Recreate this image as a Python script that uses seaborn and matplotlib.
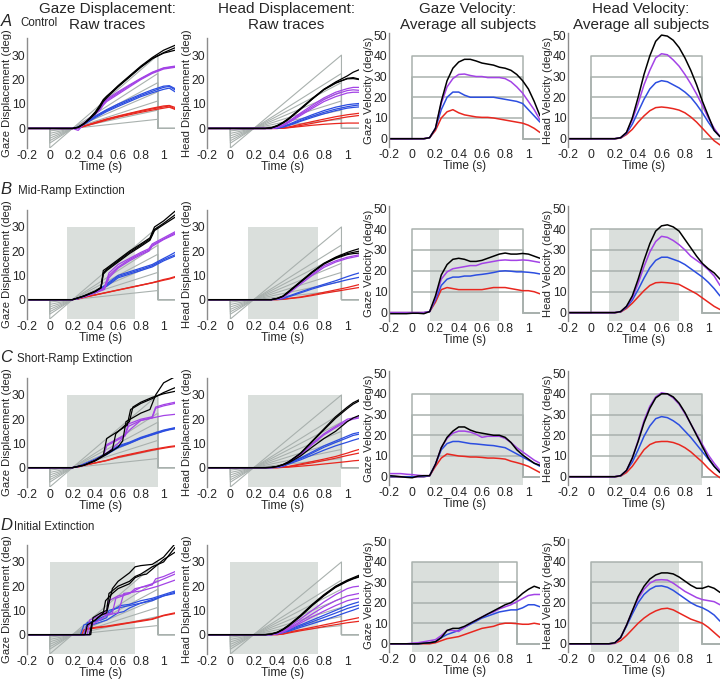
import pandas as pd
import matplotlib
matplotlib.use("Agg")
import matplotlib.pyplot as plt
import seaborn as sns

sns.set_style("white")
plt.rcParams["font.family"] = ["Liberation Sans", "DejaVu Sans"]

W, H = 720, 682

# target speeds (deg/s) and their colours
speeds = [10, 20, 30, 40]
pal = {10: "#e8271f", 20: "#2c4ee0", 30: "#a343e6", 40: "#000000"}
grey = "#a9b1ae"
shade = "#dadfdc"

# fan of target ramps drawn in the displacement panels
ramp_speeds = [5, 10, 15, 20, 25, 30, 40]
ramp_on, ramp_zero, ramp_off = 0.0, 0.2, 0.95

row_letters = ["A", "B", "C", "D"]
row_names = ["Control", "Mid-Ramp Extinction", "Short-Ramp Extinction", "Initial Extinction"]
blank = [None, (0.15, 0.75), (0.15, 0.95), (0.0, 0.75)]
gaze_vel_off = [0.95, 0.95, 0.95, 0.9]
head_vel_off = [0.95, 0.95, 0.95, 0.95]

xt = [-0.2, 0, 0.2, 0.4, 0.6, 0.8, 1.0]
xtl = ["-0.2", "0", "0.2", "0.4", "0.6", "0.8", "1"]

# time grids
t_s = [-0.2, 0.2, 0.25, 0.3, 0.4, 0.5, 0.6, 0.7, 0.8, 0.9, 1.0, 1.05, 1.1]
t_h = [-0.2, 0.3, 0.35, 0.4, 0.45, 0.5, 0.6, 0.7, 0.8, 0.9, 1.0, 1.05, 1.1]
t_A = [-0.2, 0.2, 0.25, 0.3, 0.35, 0.4, 0.44, 0.47, 0.5, 0.6, 0.7, 0.8, 0.9, 1.0, 1.1]
tv = [-0.2, -0.15, -0.1, -0.05, 0.0, 0.05, 0.1, 0.15, 0.2, 0.25, 0.3, 0.35, 0.4,
      0.45, 0.5, 0.55, 0.6, 0.65, 0.7, 0.75, 0.8, 0.85, 0.9, 0.95, 1.0, 1.05, 1.1]

# ---------- raw gaze traces ----------
gaze_A = {
    40: [(t_A, [0, 0, 0.5, 2, 4, 6.5, 9, 11.5, 13, 17.5, 21.5, 25.5, 29, 32, 34]),
         (t_A, [0, 0, 0.4, 1.8, 3.8, 6, 8.5, 11, 12.5, 17, 21, 25, 28.5, 31, 33]),
         (t_A, [0, 0, 0.5, 2, 4.2, 6.8, 9.5, 11.8, 13.2, 17.2, 21.2, 25.2, 28.6, 30.8, 32])],
    30: [(t_A, [0, 0, 0, 2, 4, 6, 7.8, 10, 11.5, 14.5, 17.5, 20.3, 22.8, 24.6, 25.3]),
         (t_A, [0, 0, -0.8, 1.8, 3.8, 5.8, 7.5, 9.5, 11, 14, 17, 20, 22.5, 24.3, 25]),
         (t_A, [0, 0, 0, 2.2, 4.2, 6.3, 8, 10.5, 12, 15, 17.8, 20.5, 23, 24.8, 25.5])],
    20: [(t_s, [0, 0, 0.5, 1.8, 4.8, 7.3, 9.5, 11.5, 13.5, 15.2, 16.8, 17.2, 15.8]),
         (t_s, [0, 0, 0.4, 1.6, 4.4, 6.9, 9, 11, 13, 14.6, 16, 16.5, 15]),
         (t_s, [0, 0, 0.6, 2, 5.1, 7.7, 10, 12, 14, 15.8, 17.3, 17.5, 16.3])],
    10: [(t_s, [0, 0, 0.3, 0.9, 2.3, 3.7, 4.9, 6, 7, 8, 8.8, 9.2, 8]),
         (t_s, [0, 0, 0.2, 0.8, 2.1, 3.4, 4.6, 5.6, 6.6, 7.5, 8.3, 8.7, 7.8]),
         (t_s, [0, 0, 0.3, 1, 2.5, 3.9, 5.1, 6.2, 7.3, 8.3, 9.2, 9.4, 8.6])],
}

t_Bk = [-0.2, 0.2, 0.3, 0.4, 0.45, 0.47, 0.5, 0.6, 0.7, 0.8, 0.88, 0.92, 1.0, 1.1]
t_Bp = [-0.2, 0.2, 0.3, 0.4, 0.48, 0.52, 0.6, 0.7, 0.8, 0.87, 0.9, 1.0, 1.1]
gaze_B = {
    40: [(t_Bk, [0, 0, 1.5, 3.5, 5, 12, 13, 16.5, 20, 23, 25.5, 30, 32.5, 36.5]),
         (t_Bk, [0, 0, 1.5, 3.5, 5, 11, 12.5, 16, 19.5, 22.5, 25, 29, 31.5, 35]),
         (t_Bk, [0, 0, 1.4, 3.3, 4.8, 10.5, 12, 15.5, 19, 22, 24.5, 28.5, 31, 34])],
    30: [(t_Bp, [0, 0, 1.2, 3, 5, 11, 14.5, 17, 19.5, 21, 23, 25.5, 28]),
         (t_Bp, [0, 0, 1.2, 3, 4.5, 10, 13.5, 16.5, 19, 20.5, 22.5, 25, 27.5]),
         (t_Bp, [0, 0, 1.1, 2.8, 4.2, 9, 13, 16, 18.5, 20, 22, 24.8, 27])],
    20: [(t_s, [0, 0, 0.5, 1.5, 3, 6.5, 10, 11.5, 13, 14.5, 17, 18.2, 19.5]),
         (t_s, [0, 0, 0.5, 1.5, 3, 6, 9.5, 11, 12.5, 14, 16.5, 17.5, 18.5]),
         (t_s, [0, 0, 0.4, 1.4, 2.8, 5.5, 9, 10.5, 12, 13.5, 16, 17, 18])],
    10: [(t_s, [0, 0, 0.3, 1, 2, 3, 4, 5, 6, 7, 8.3, 8.8, 9.5]),
         (t_s, [0, 0, 0.3, 0.9, 1.9, 2.9, 3.9, 4.9, 5.9, 6.9, 8, 8.5, 9.2])],
}

t_Cp = [-0.2, 0.2, 0.3, 0.4, 0.47, 0.5, 0.6, 0.66, 0.69, 0.8, 0.9, 0.93, 1.0, 1.1]
gaze_C = {
    40: [([-0.2, 0.2, 0.3, 0.4, 0.47, 0.5, 0.6, 0.68, 0.71, 0.8, 0.9, 1.0, 1.1],
          [0, 0, 1, 3, 5, 12, 15, 17.5, 24, 26.5, 28.5, 31, 33]),
         ([-0.2, 0.2, 0.3, 0.4, 0.5, 0.55, 0.58, 0.65, 0.7, 0.73, 0.8, 0.9, 1.0, 1.1],
          [0, 0, 1, 3, 6, 7.5, 14, 17, 19, 25, 27, 29, 30.5, 31.5]),
         ([-0.2, 0.2, 0.3, 0.4, 0.5, 0.6, 0.64, 0.67, 0.8, 0.88, 0.93, 1.0, 1.1],
          [0, 0, 1, 2.8, 5.5, 8.5, 11, 19, 22.5, 24, 30, 35, 37.5])],
    30: [(t_Cp, [0, 0, 1, 3, 5, 9.5, 12, 13.5, 18, 20, 21, 25, 26, 27]),
         (t_Cp, [0, 0, 1, 3, 4.8, 9, 11.5, 13, 17, 19.5, 20.5, 24.5, 25.5, 26.5]),
         ([-0.2, 0.2, 0.3, 0.4, 0.5, 0.6, 0.7, 0.8, 0.9, 1.0, 1.1],
          [0, 0, 1, 3, 6, 10, 15.5, 19.5, 20.5, 21.5, 22])],
    20: [(t_s, [0, 0, 0.5, 1.5, 3.5, 6, 9, 10.5, 12.5, 14, 15.5, 16, 16.5]),
         (t_s, [0, 0, 0.5, 1.4, 3.3, 5.7, 8.6, 10.2, 12.2, 13.7, 15.2, 15.8, 16.3]),
         (t_s, [0, 0, 0.4, 1.3, 3.1, 5.4, 8.2, 10, 12, 13.5, 15, 15.6, 16])],
    10: [(t_s, [0, 0, 0.3, 1, 2, 3, 4.5, 5.5, 6.5, 7.5, 8.3, 8.7, 9]),
         (t_s, [0, 0, 0.3, 0.9, 1.9, 2.9, 4.2, 5.2, 6.2, 7.2, 8, 8.4, 8.7])],
}

gaze_D = {
    40: [([-0.2, 0.31, 0.33, 0.4, 0.45, 0.47, 0.49, 0.55, 0.6, 0.7, 0.75, 0.8, 0.85, 0.9, 0.95, 1.0, 1.1],
          [0, 0, 4, 6, 8, 9, 14, 17, 19, 21, 23.5, 24.5, 25, 27, 29, 31, 34]),
         ([-0.2, 0.36, 0.38, 0.45, 0.5, 0.52, 0.6, 0.7, 0.75, 0.8, 0.9, 1.0, 1.1],
          [0, 0, 7, 9, 10, 17, 20, 22, 24, 25, 28, 30, 36]),
         ([-0.2, 0.35, 0.37, 0.45, 0.5, 0.55, 0.6, 0.7, 0.75, 0.8, 0.9, 1.0, 1.1],
          [0, 0, 5, 8, 9, 19, 22, 25.5, 28, 28.5, 29, 32, 37.5])],
    30: [([-0.2, 0.3, 0.32, 0.4, 0.45, 0.5, 0.52, 0.6, 0.7, 0.75, 0.8, 0.9, 0.93, 1.0, 1.1],
          [0, 0, 3, 6, 8.5, 9.5, 14, 16, 17, 19, 19.5, 20.5, 23, 24, 26]),
         ([-0.2, 0.35, 0.37, 0.5, 0.6, 0.62, 0.65, 0.8, 0.95, 1.1],
          [0, 0, 4, 8, 9, 12, 17, 18, 20, 22.5]),
         ([-0.2, 0.33, 0.35, 0.45, 0.55, 0.58, 0.7, 0.8, 0.9, 1.0, 1.1],
          [0, 0, 6, 8, 9, 15, 17, 19.5, 21, 23, 25])],
    20: [([-0.2, 0.27, 0.3, 0.4, 0.45, 0.5, 0.55, 0.62, 0.7, 0.8, 0.9, 1.0, 1.1],
          [0, 0, 4, 5.5, 7, 8, 10, 12, 12.5, 14, 15, 16.5, 18]),
         ([-0.2, 0.35, 0.37, 0.5, 0.6, 0.65, 0.7, 0.8, 0.9, 1.0, 1.1],
          [0, 0, 4, 6, 9, 9.5, 11, 13, 14, 16, 17]),
         ([-0.2, 0.3, 0.33, 0.45, 0.5, 0.52, 0.6, 0.8, 0.9, 1.0, 1.1],
          [0, 0, 5, 6, 7, 10, 11, 13, 14.5, 16, 17.5])],
    10: [([-0.2, 0.3, 0.33, 0.4, 0.5, 0.6, 0.7, 0.8, 0.9, 0.95, 1.0, 1.1],
          [0, 0, 2.5, 3, 3.5, 4.3, 5, 5.8, 6.5, 7.3, 8, 9]),
         ([-0.2, 0.28, 0.3, 0.4, 0.5, 0.6, 0.7, 0.8, 0.9, 1.0, 1.1],
          [0, 0, 2, 2.7, 3.3, 4, 4.8, 5.5, 6.3, 7.8, 8.7])],
}

# ---------- raw head traces (on t_h) ----------
head_A = {
    40: [[0, 0, 0.2, 1, 2.3, 4, 8, 12, 16, 19, 21.5, 23, 24],
         [0, 0, 0.2, 1, 2.2, 3.8, 7.8, 12, 15.8, 18.5, 20.5, 20.8, 20.2],
         [0, 0, 0.3, 1.2, 2.5, 4.2, 8.2, 12.3, 16, 18.7, 20.3, 20.4, 20]],
    30: [[0, 0, 0, 0.5, 1.5, 3, 6.3, 9.5, 12.5, 14.8, 16.3, 16.8, 16.8],
         [0, 0, 0, 0.4, 1.3, 2.7, 5.8, 8.8, 11.8, 14, 15.5, 15.8, 15.6],
         [0, 0, 0, 0.3, 1.1, 2.4, 5.3, 8.2, 11, 13, 14.5, 14.8, 14.8]],
    20: [[0, 0, 0, 0.2, 0.8, 1.7, 3.7, 5.6, 7.3, 8.7, 9.7, 10, 10.2],
         [0, 0, 0, 0.1, 0.6, 1.4, 3.2, 5, 6.6, 7.9, 8.9, 9.3, 9.6],
         [0, 0, 0, 0.1, 0.5, 1.2, 2.9, 4.5, 6, 7.3, 8.3, 8.6, 8.8]],
    10: [[0, 0, 0, 0, 0.2, 0.6, 1.7, 2.8, 3.8, 4.8, 5.6, 5.9, 6.2],
         [0, 0, 0, 0, 0.1, 0.4, 1.2, 2.1, 3, 3.9, 4.7, 5, 5.3],
         [0, 0, 0, 0, 0.1, 0.3, 0.8, 1.3, 1.7, 2, 2.2, 2.2, 2.2]],
}
head_B = {
    40: [[0, 0, 0, 0.5, 1.5, 3.5, 7.5, 11.5, 15, 17.5, 19.5, 20.3, 21],
         [0, 0, 0, 0.4, 1.3, 3.2, 7.2, 11.2, 14.8, 17.3, 19, 19.5, 20],
         [0, 0, 0, 0.5, 1.4, 3.3, 7.3, 11.3, 14.7, 17, 18.6, 19, 19.2]],
    30: [[0, 0, 0, 0.3, 1, 3, 7, 10.5, 14, 16, 17.5, 18, 18.5],
         [0, 0, 0, 0.2, 0.8, 2.6, 6.4, 10, 13.3, 15.5, 17, 17.5, 18]],
    20: [[0, 0, 0, 0.2, 0.5, 1.5, 3.2, 4.8, 6.3, 7.8, 9.5, 10.3, 11],
         [0, 0, 0, 0.1, 0.4, 1.2, 2.8, 4.4, 5.8, 7, 8.2, 8.7, 9.2]],
    10: [[0, 0, 0, 0, 0.2, 0.5, 1.1, 2, 3, 4, 5, 5.6, 6.2],
         [0, 0, 0, 0, 0.1, 0.4, 0.9, 1.7, 2.6, 3.4, 4.2, 4.6, 5]],
}
head_C = {
    40: [[0, 0, 0.1, 0.5, 1.3, 2.5, 6, 11, 16, 21, 25, 26.8, 28],
         [0, 0, 0.1, 0.5, 1.2, 2.3, 5.8, 10.7, 15.6, 20.4, 24.4, 26.2, 27.5],
         [0, 0, 0.1, 0.4, 1.1, 2, 4.8, 8.5, 12, 15, 19, 20.5, 21.5]],
    30: [[0, 0, 0, 0.3, 1, 2.5, 5.5, 10, 14, 17, 20, 20.5, 21],
         [0, 0, 0, 0.3, 0.9, 2.2, 5.2, 9.5, 13.5, 16.5, 19.3, 20, 20.5]],
    20: [[0, 0, 0, 0.2, 0.7, 2, 4, 6.5, 9, 11, 13, 14, 14.5],
         [0, 0, 0, 0.2, 0.6, 1.8, 3.7, 6, 8.4, 10.4, 12.3, 13.3, 13.8],
         [0, 0, 0, 0.1, 0.5, 1.5, 3.2, 5.2, 7.2, 9, 10.5, 11.3, 12]],
    10: [[0, 0, 0, 0, 0.2, 0.5, 1.5, 2.5, 3.5, 4.6, 6, 6.8, 7.5],
         [0, 0, 0, 0, 0.1, 0.4, 1.2, 2, 2.9, 3.9, 5, 5.5, 6],
         [0, 0, 0, 0, 0.1, 0.2, 0.6, 1, 1.5, 2, 2.5, 2.8, 3]],
}
head_D = {
    40: [[0, 0, 0.3, 1, 2.3, 4, 8, 12.5, 16.5, 20, 22.5, 23.5, 24.5],
         [0, 0, 0.2, 0.8, 2, 3.6, 7.5, 12, 16, 19.5, 22, 23, 23.8],
         [0, 0, 0.2, 0.9, 2.1, 3.8, 7.8, 12.2, 16.2, 19.7, 22.2, 23.2, 24]],
    30: [[0, 0, 0, 0.5, 1.5, 3, 6.5, 10, 13.5, 16.5, 19, 19.7, 20],
         [0, 0, 0, 0.4, 1.2, 2.5, 5.5, 8.5, 11.5, 14, 16, 16.5, 17],
         [0, 0, 0, 0.3, 1, 2.2, 4.8, 7.3, 9.7, 12, 14, 14.6, 15]],
    20: [[0, 0, 0, 0.5, 1.2, 2, 4, 6, 8, 10, 12, 12.8, 13.5],
         [0, 0, 0, 0.4, 1, 1.7, 3.5, 5.3, 7.1, 8.9, 10.8, 11.5, 12.2],
         [0, 0, 0, 0.3, 0.8, 1.4, 3, 4.5, 6, 7.6, 9.3, 10.1, 11]],
    10: [[0, 0, 0, 0, 0.3, 1, 2, 3, 4, 5, 6, 6.5, 7],
         [0, 0, 0, 0, 0.2, 0.7, 1.6, 2.4, 3.3, 4.1, 4.9, 5.2, 5.5]],
}

# ---------- average velocities (on tv) ----------
gvel_A = {
    40: [0, 0, 0, 0, 0, 0, 0, 0.5, 5, 18, 28, 34, 37, 38.3, 38.3, 37.5, 36.5, 36, 35.5, 34.5, 34, 33, 31, 28, 24, 18, 11],
    30: [0, 0, 0, 0, 0, 0, 0, 0.5, 5, 17, 25, 29, 31, 31.2, 30.5, 30, 30, 29.5, 29.5, 29.5, 29, 27.5, 25, 22, 18, 14, 9],
    20: [0, 0, 0, 0, 0, 0, 0, 0.5, 5, 14, 20, 22.5, 22.5, 21, 20, 20, 20, 20, 20, 19.5, 19, 18.5, 18, 17, 14, 11, 8],
    10: [0, 0, 0, 0, 0, 0, 0, 0.5, 4, 10, 13, 14, 12.5, 11.5, 11, 10.5, 10.3, 10.3, 10, 9.5, 9, 8.5, 8, 7.5, 6.5, 5, 3],
}
hvel_A = {
    40: [0, 0, 0, 0, 0, 0, 0, 0, 0, 0.5, 3, 10, 20, 31, 40, 47, 50, 49.5, 47.5, 44, 39, 33, 26, 18, 11, 4, 1],
    30: [0, 0, 0, 0, 0, 0, 0, 0, 0, 0.5, 3, 9, 17, 26, 33, 39, 41, 40.5, 38, 35, 31, 26.5, 21.5, 16, 10, 5, 1],
    20: [0, 0, 0, 0, 0, 0, 0, 0, 0, 0.4, 2.5, 7, 13, 19, 24, 27, 28, 27.5, 26, 24.5, 22.5, 20, 16.5, 12.5, 8, 4, 1],
    10: [0, 0, 0, 0, 0, 0, 0, 0, 0, 0.3, 2, 4.5, 8, 11, 13.5, 15, 15.3, 15, 14.5, 13.8, 12.5, 10.5, 8, 5, 2, -1, -3],
}
gvel_B = {
    40: [-0.5, -0.5, -0.5, -0.5, -0.3, -0.3, -0.5, 0.5, 8, 18, 23, 25.5, 26, 25.5, 24.5, 24.5, 25, 26, 27, 28, 28.5, 28, 28, 28.3, 28, 27, 26],
    30: [0, 0, 0, 0, 0, 0, 0, 0.5, 7, 16, 19.5, 21, 21.5, 22, 22.5, 22.5, 23.5, 24, 24.5, 25, 25.2, 25, 25, 25.2, 25, 24.5, 24],
    20: [0, 0, 0, 0, 0, 0, 0, 0.5, 6, 13, 16, 17, 17, 17.5, 17.5, 18, 18.3, 18.7, 19.2, 19.8, 20, 19.8, 19.5, 19.5, 19.3, 19, 18.5],
    10: [0, 0, 0, 0, 0, 0, 0, 0.5, 5, 11, 12, 11.5, 11, 11, 11, 11, 11, 11.5, 12, 12, 12, 11.5, 11, 10.5, 10.5, 10, 9],
}
hvel_B = {
    40: [0, 0, 0, 0, 0, 0, 0, 0, 0, 0.5, 3, 8, 16, 25, 33, 39, 41.5, 42, 41, 39, 35, 31, 27, 23.5, 21, 19, 16],
    30: [0, 0, 0, 0, 0, 0, 0, 0, 0, 0.5, 3, 7, 14, 22, 29, 34, 36.5, 36, 34.5, 32.5, 30, 27, 25, 23, 20.5, 17.5, 13],
    20: [0, 0, 0, 0, 0, 0, 0, 0, 0, 0.4, 2.5, 6, 11, 16.5, 21.5, 25, 26.5, 26.5, 25.5, 24.5, 23, 21, 19, 17, 14.5, 11.5, 8],
    10: [0, 0, 0, 0, 0, 0, 0, 0, 0, 0.3, 2, 4.5, 7.5, 10.5, 13, 14.3, 14.5, 14.3, 14, 13.5, 12, 10.5, 9, 7, 5, 3, 1.5],
}
gvel_C = {
    40: [0.5, 0.3, 0, -0.3, -0.5, 0.3, 0.5, 0.5, 6, 14, 19, 22, 24, 24, 22.5, 21.5, 21, 20.5, 20, 20, 19, 16.5, 13, 10.5, 8.5, 6.5, 5.5],
    30: [1.5, 1.5, 1.5, 1.2, 1, 0.7, 0.5, 0.5, 6, 14, 18.5, 21, 22, 22, 21.5, 20.5, 19, 19.5, 19.5, 19.5, 18.5, 16.5, 14, 12, 10, 8, 6.5],
    20: [0, 0, 0, 0, 0, 0, 0, 0.5, 6, 13, 16, 17, 17, 16.5, 16, 15.8, 15.5, 15.2, 15, 14.5, 14, 12.5, 11, 9.5, 8, 6.5, 5],
    10: [0, 0, 0, 0, 0, 0, 0, 0.5, 5, 9, 11, 10.5, 10, 9.8, 9.5, 9.5, 9.3, 9, 9, 8.8, 8.5, 7.5, 6.8, 6, 5, 3.5, 2],
}
hvel_C = {
    40: [0, 0, 0, 0, 0, 0, 0, 0, 0, 0.5, 3, 9, 17, 26, 33, 38, 40, 40, 38.5, 35.5, 31, 25.5, 20, 14.5, 9, 5, 2],
    30: [0, 0, 0, 0, 0, 0, 0, 0, 0, 0.5, 3, 9, 17.5, 27, 34, 38.5, 40.5, 40, 38, 35, 30.5, 25.5, 20.5, 15.5, 10.5, 6.5, 3],
    20: [0, 0, 0, 0, 0, 0, 0, 0, 0, 0.4, 3, 7, 13, 19.5, 24.5, 28, 29, 28.5, 27, 25, 22, 19, 15.5, 12, 8.5, 5, 2],
    10: [0, 0, 0, 0, 0, 0, 0, 0, 0, 0.3, 2, 5, 9, 13, 15.5, 16.7, 17, 17, 16.5, 15.5, 14, 12, 9.5, 7, 4, 1.5, -0.5],
}
gvel_D = {
    40: [0, 0, 0, 0, 0, 0, 0.3, 0.5, 1, 3, 6.5, 7.5, 7.5, 8.5, 10, 11.5, 13, 14.5, 16, 17.5, 19, 20, 22, 24.5, 26.5, 28, 27],
    30: [0, 0, 0, 0, 0.3, 0.5, 1, 1.5, 2, 4, 6.5, 6.5, 6, 8, 10, 11.5, 13, 14.5, 15.5, 17, 18, 19, 20.5, 22, 23.5, 24, 24],
    20: [0, 0, 0, 0, 0, 0, 0.3, 0.5, 1, 3, 4.5, 5.5, 6.5, 8, 9.5, 11, 12.5, 13.5, 14.5, 15.5, 16, 16.5, 16.5, 17.5, 19, 19, 18],
    10: [0, 0, 0, 0, 0, 0, 0, 0, 0.5, 1.5, 2.5, 3, 3.5, 4.5, 5.5, 6.5, 7.5, 8, 8.5, 9.5, 10, 10, 9.8, 9.5, 9.5, 10, 9.5],
}
hvel_D = {
    40: [0, 0, 0, 0, 0, 0, 0, 0, 0.5, 3, 9, 16, 23, 28, 31.5, 33.5, 34.5, 34.5, 34, 32.5, 30.5, 28.5, 27, 27, 28, 27, 25],
    30: [0, 0, 0, 0, 0, 0, 0, 0, 0.3, 3, 9, 16, 22, 26.5, 29.5, 31, 31.2, 31, 29.5, 27.5, 25.5, 24, 22.5, 21.5, 21, 20.5, 19],
    20: [0, 0, 0, 0, 0, 0, 0, 0, 0.3, 3, 8.5, 14.5, 20, 24, 26.5, 28, 28.2, 27.5, 26, 24, 22, 20, 18.5, 17.5, 16, 14, 11],
    10: [0, 0, 0, 0, 0, 0, 0, 0, 0.2, 1.5, 4, 7, 10, 12.5, 14.5, 16, 17, 17.3, 16.5, 15, 13.5, 12, 11, 10, 8, 5.5, 3],
}

gaze_raw = [gaze_A, gaze_B, gaze_C, gaze_D]
head_raw = [head_A, head_B, head_C, head_D]
gaze_vel = [gvel_A, gvel_B, gvel_C, gvel_D]
head_vel = [hvel_A, hvel_B, hvel_C, hvel_D]

# panel geometry in pixels
col_left = [27, 207, 389, 568]
col_w = [148, 152, 151, 152]
ylab_right = [12.5, 192, 374, 553]   # right edge of the rotated y label
disp_rows = [(38, 148), (210, 319), (378, 487), (545, 654)]
vel_rows = [(33, 147), (206, 321), (371, 485), (539, 652)]


def raw_frame(traces, grid=None):
    rows = []
    for sp, lst in traces.items():
        for i, tr in enumerate(lst):
            tt, yy = (grid, tr) if grid is not None else tr
            for a, b in zip(tt, yy):
                rows.append((a, b, sp, f"{sp}_{i}"))
    return pd.DataFrame(rows, columns=["t", "y", "speed", "trace"])


def vel_frame(curves):
    rows = []
    for sp, yy in curves.items():
        rows += [(a, b, sp) for a, b in zip(tv, yy)]
    return pd.DataFrame(rows, columns=["t", "y", "speed"])


def make_ax(fig, col, top, bottom):
    l = col_left[col]
    return fig.add_axes([l / W, 1 - bottom / H, col_w[col] / W, (bottom - top) / H])


def style(ax, kind, col, ylabel):
    ax.set_xlim(-0.2, 1.1)
    ax.set_xticks(xt)
    ax.set_xticklabels(xtl)
    if kind == "disp":
        ax.set_ylim(-8, 37)
        ax.set_yticks([0, 10, 20, 30])
    else:
        ax.set_ylim(-4, 51)
        ax.set_yticks([0, 10, 20, 30, 40, 50])
    for s in ["top", "right", "bottom"]:
        ax.spines[s].set_visible(False)
    ax.spines["left"].set_color("#8c8c8c")
    ax.spines["left"].set_linewidth(1.0)
    ax.tick_params(length=0, labelsize=8.8, pad=1.2)
    ax.set_xlabel("Time (s)", fontsize=8.6, labelpad=-0.5)
    ax.set_ylabel(ylabel, fontsize=8.1)
    ax.yaxis.set_label_coords((ylab_right[col] - col_left[col]) / col_w[col], 0.5)
    ax.grid(False)
    ax.set_facecolor("none")


def disp_panel(ax, df, win, col, ylabel):
    if win is not None:
        ax.fill_between(list(win), -8, 30, color=shade, lw=0, zorder=0)
    for v in ramp_speeds:
        ax.plot([-0.2, ramp_on, ramp_on, ramp_off, ramp_off, 1.1],
                [0, 0, v * (ramp_on - ramp_zero), v * (ramp_off - ramp_zero), 0, 0],
                color=grey, lw=0.8, zorder=1)
    sns.lineplot(data=df, x="t", y="y", hue="speed", units="trace", estimator=None,
                 sort=False, palette=pal, hue_order=speeds, legend=False,
                 lw=0.9, ax=ax, zorder=2)
    style(ax, "disp", col, ylabel)


def vel_panel(ax, df, win, off, col, ylabel):
    if win is not None:
        ax.fill_between(list(win), -4, 40, color=shade, lw=0, zorder=0)
    for v in speeds:
        ax.plot([-0.2, 0, 0, off, off, 1.1], [0, 0, v, v, 0, 0],
                color=grey, lw=1.1, zorder=1)
    sns.lineplot(data=df, x="t", y="y", hue="speed", estimator=None, sort=False,
                 palette=pal, hue_order=speeds, legend=False, lw=1.1, ax=ax, zorder=2)
    style(ax, "vel", col, ylabel)


fig = plt.figure(figsize=(W / 100, H / 100), dpi=100)

for r in range(4):
    dt, db = disp_rows[r]
    vt, vb = vel_rows[r]

    ax = make_ax(fig, 0, dt, db)
    disp_panel(ax, raw_frame(gaze_raw[r]), blank[r], 0, "Gaze Displacement (deg)")

    ax = make_ax(fig, 1, dt, db)
    disp_panel(ax, raw_frame(head_raw[r], grid=t_h), blank[r], 1, "Head Displacement (deg)")

    ax = make_ax(fig, 2, vt, vb)
    vel_panel(ax, vel_frame(gaze_vel[r]), blank[r], gaze_vel_off[r], 2, "Gaze Velocity (deg/s)")

    ax = make_ax(fig, 3, vt, vb)
    vel_panel(ax, vel_frame(head_vel[r]), blank[r], head_vel_off[r], 3, "Head Velocity (deg/s)")

# column titles, two lines each
title_top = ["Gaze Displacement:", "Head Displacement:", "Gaze Velocity:", "Head Velocity:"]
title_bot = ["Raw traces", "Raw traces", "Average all subjects", "Average all subjects"]
title_x = [107, 286, 468, 641]
for tx, t1, t2 in zip(title_x, title_top, title_bot):
    fig.text(tx / W, 1 - 9 / H, t1, ha="center", va="center", fontsize=11)
    fig.text(tx / W, 1 - 25 / H, t2, ha="center", va="center", fontsize=11)

# row letters and condition names
letter_y = [22, 190, 358, 526]
name_x = [20, 18, 17, 14]
for r in range(4):
    fig.text(0.5 / W, 1 - letter_y[r] / H, row_letters[r], ha="left", va="center",
             fontsize=12, style="italic")
    fig.text(name_x[r] / W, 1 - (letter_y[r] + 1) / H, row_names[r], ha="left", va="center",
             fontsize=8.3)

fig.savefig("out.png", dpi=100)
